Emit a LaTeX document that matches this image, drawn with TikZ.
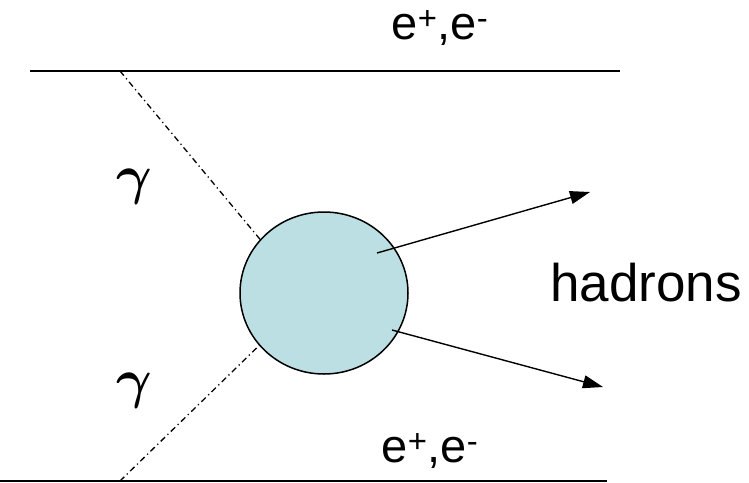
\documentclass[tikz,border=0pt]{standalone}
\usepackage{fontspec}
\setmainfont{Liberation Sans}
\usetikzlibrary{arrows.meta,positioning,calc,shapes.geometric}
\definecolor{cBlob}{HTML}{BBDFE2}
\tikzset{
  beam/.style={line width=1.8pt,draw=black},
  photon/.style={line width=1.3pt,draw=black,
                 dash pattern=on 6pt off 3.5pt on 1.2pt off 3.5pt},
  blobst/.style={ellipse,draw=black,fill=cBlob,line width=1.5pt,
                 minimum width=168pt,minimum height=162pt,inner sep=0pt},
  outgo/.style={-{Triangle[length=20pt,width=13pt]},line width=1.4pt,draw=black},
  elbl/.style={font=\fontsize{47}{51}\selectfont,inner sep=0pt,anchor=base},
  hlbl/.style={font=\fontsize{53}{58}\selectfont,inner sep=0pt,anchor=base},
  glbl/.style={font=\Huge\boldmath,inner sep=0pt,scale=2.2,transform shape},
}

\begin{document}
\begin{tikzpicture}[x=1pt,y=-1pt]
\useasboundingbox (0,0) rectangle (749,482);

% ---------------------------------------------------------------- beams
\coordinate (t0) at (30,71);
\coordinate (t1) at (620,71);
\coordinate (b0) at (0,481);
\coordinate (b1) at (607,481);
\coordinate (tv) at (120,71);
\coordinate (bv) at (120,481);
\draw[beam] (t0) -- (t1);
\draw[beam] (b0) -- (b1);

\node[elbl] (etop) at (440,39) {e\textsuperscript{+},e\textsuperscript{-}};
\node[elbl] (ebot) at (430,462) {e\textsuperscript{+},e\textsuperscript{-}};

% ---------------------------------------------------------------- blob
\node[blobst] (blob) at (324,293) {};

\draw[photon] (tv) -- (blob.140);
\draw[photon] (bv) -- (blob.219);

\node[glbl] (g1) at (134,187) {$\gamma$};
\node[glbl] (g2) at (134,391) {$\gamma$};

% ---------------------------------------------------------------- hadrons
\coordinate (h1) at ($(blob.center)+(53,-40)$);
\coordinate (h2) at ($(blob.center)+(68,37)$);
\coordinate (e1) at (590,192);
\coordinate (e2) at (603,387);
\draw[outgo] (h1) -- (e1);
\draw[outgo] (h2) -- (e2);

\node[hlbl] (had) at (646,301) {hadrons};

\end{tikzpicture}
\end{document}
